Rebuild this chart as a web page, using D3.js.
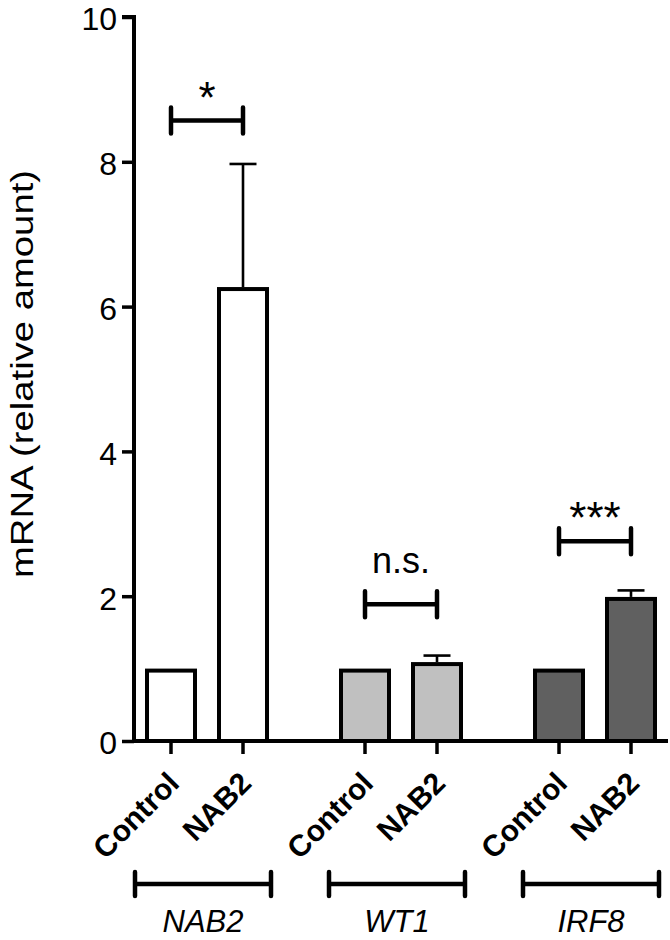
<!DOCTYPE html>
<html>
<head>
<meta charset="utf-8">
<script src="https://cdn.jsdelivr.net/npm/d3@7/dist/d3.min.js"></script>
<style>
  html, body { margin: 0; padding: 0; background: #fff; }
  svg { display: block; font-family: 'Liberation Sans', Arial, sans-serif; }
</style>
</head>
<body>
<svg id="chart" width="670" height="940"></svg>
<script>
var genes = ['NAB2', 'WT1', 'IRF8'];
var conditions = ['Control', 'NAB2'];
var means = [[1, 6.27], [1, 1.09], [1, 1.99]];
var errors = [[0, 1.7], [0, 0.09], [0, 0.09]];
var fills = ['#ffffff', '#c0c0c0', '#606060'];
var yTicks = [0, 2, 4, 6, 8, 10];
var sigLabels = ['*', 'n.s.', '***'];
var sigLevels = [8.57, 1.89, 2.76];

(function () {
      'use strict';

      var svg = d3.select('#chart');

      var y = d3.scaleLinear().domain([0, 10]).range([741, 17]);
      var x0 = d3.scaleBand().domain(genes).range([110, 692]);
      var x1 = d3.scaleBand().domain(conditions).range([25, 169])
            .paddingInner(1 / 3).paddingOuter(1 / 6);

      function cx(g, c) { return x0(g) + x1(c) + x1.bandwidth() / 2; }

      var bars = [];
      genes.forEach(function(g, gi) {
            conditions.forEach(function(c, ci) {
                  bars.push({ gene: g, cond: c, v: means[gi][ci], e: errors[gi][ci], fill: fills[gi] });
            });
      });

      // error bars (upper only), drawn under the bars
      var err = svg.append('g').selectAll('g')
            .data(bars.filter(function(d) { return d.e > 0; }))
            .enter().append('g')
            .attr('stroke', '#000').attr('stroke-width', 2.6);
      err.append('line')
            .attr('x1', function(d) { return cx(d.gene, d.cond); })
            .attr('x2', function(d) { return cx(d.gene, d.cond); })
            .attr('y1', function(d) { return y(d.v); })
            .attr('y2', function(d) { return y(d.v + d.e); });
      err.append('line')
            .attr('x1', function(d) { return cx(d.gene, d.cond) - 13.5; })
            .attr('x2', function(d) { return cx(d.gene, d.cond) + 13.5; })
            .attr('y1', function(d) { return y(d.v + d.e); })
            .attr('y2', function(d) { return y(d.v + d.e); });

      svg.append('g').selectAll('rect')
            .data(bars)
            .enter().append('rect')
            .attr('x', function(d) { return x0(d.gene) + x1(d.cond); })
            .attr('width', x1.bandwidth())
            .attr('y', function(d) { return y(d.v) + 2; })
            .attr('height', function(d) { return y(0) - y(d.v) - 2; })
            .attr('fill', function(d) { return d.fill; })
            .attr('stroke', '#000')
            .attr('stroke-width', 4);

      // y axis
      var yAxis = svg.append('g')
            .attr('transform', 'translate(134,0)')
            .call(d3.axisLeft(y).tickValues(yTicks).tickSize(12).tickPadding(5).tickFormat(d3.format('d')));
      yAxis.select('.domain').attr('d', 'M-12,' + y(10) + 'H0V' + y(0)).attr('stroke-width', 4);
      yAxis.selectAll('.tick line').attr('stroke-width', 3.5);
      yAxis.selectAll('.tick text').attr('font-size', 32).attr('fill', '#000').attr('dy', '0.4em')
            .attr('font-family', "'Liberation Sans', Arial, sans-serif");

      // x axis
      var xAxis = svg.append('g').attr('transform', 'translate(0,' + y(0) + ')');
      xAxis.append('path')
            .attr('d', 'M132,0H668')
            .attr('stroke', '#000').attr('stroke-width', 4);
      var xt = xAxis.selectAll('g.xt')
            .data(bars)
            .enter().append('g').attr('class', 'xt')
            .attr('transform', function(d) { return 'translate(' + cx(d.gene, d.cond) + ',0)'; });
      xt.append('line').attr('y1', 0).attr('y2', 13).attr('stroke', '#000').attr('stroke-width', 3.5);
      xt.append('text')
            .attr('transform', 'translate(10,44) rotate(-45)')
            .attr('text-anchor', 'end')
            .attr('font-size', 30).attr('font-weight', 'bold')
            .text(function(d) { return d.cond; });

      // y label
      svg.append('text')
            .attr('transform', 'translate(33,374) rotate(-90)')
            .attr('text-anchor', 'middle')
            .attr('font-size', 32)
            .attr('textLength', 408).attr('lengthAdjust', 'spacingAndGlyphs')
            .text('mRNA (relative amount)');

      function bracket(sel, xa, xb, yy, h) {
            sel.append('path')
                  .attr('d', 'M' + xa + ',' + (yy - h) + 'V' + (yy + h) + 'M' + xa + ',' + yy + 'H' + xb +
                        'M' + xb + ',' + (yy - h) + 'V' + (yy + h))
                  .attr('fill', 'none').attr('stroke', '#000').attr('stroke-width', 4.5)
                  .attr('stroke-linecap', 'round');
      }

      // significance brackets
      genes.forEach(function(g, i) {
            var a = cx(g, 'Control'), b = cx(g, 'NAB2'), yy = y(sigLevels[i]);
            var grp = svg.append('g');
            bracket(grp, a, b, yy, 13);
            var isStar = sigLabels[i].indexOf('*') === 0;
            grp.append('text')
                  .attr('x', (a + b) / 2)
                  .attr('y', isStar ? yy - 8 : yy - 31)
                  .attr('text-anchor', 'middle')
                  .attr('font-size', isStar ? 44 : 36)
                  .text(sigLabels[i]);
      });

      // gene group brackets
      genes.forEach(function(g) {
            var a = x0(g) + 25, b = x0(g) + 161;
            var grp = svg.append('g');
            bracket(grp, a, b, 884, 12);
            grp.append('text')
                  .attr('x', (a + b) / 2)
                  .attr('y', 932)
                  .attr('text-anchor', 'middle')
                  .attr('font-size', 31).attr('font-style', 'italic')
                  .text(g);
      });
})();
</script>
</body>
</html>
